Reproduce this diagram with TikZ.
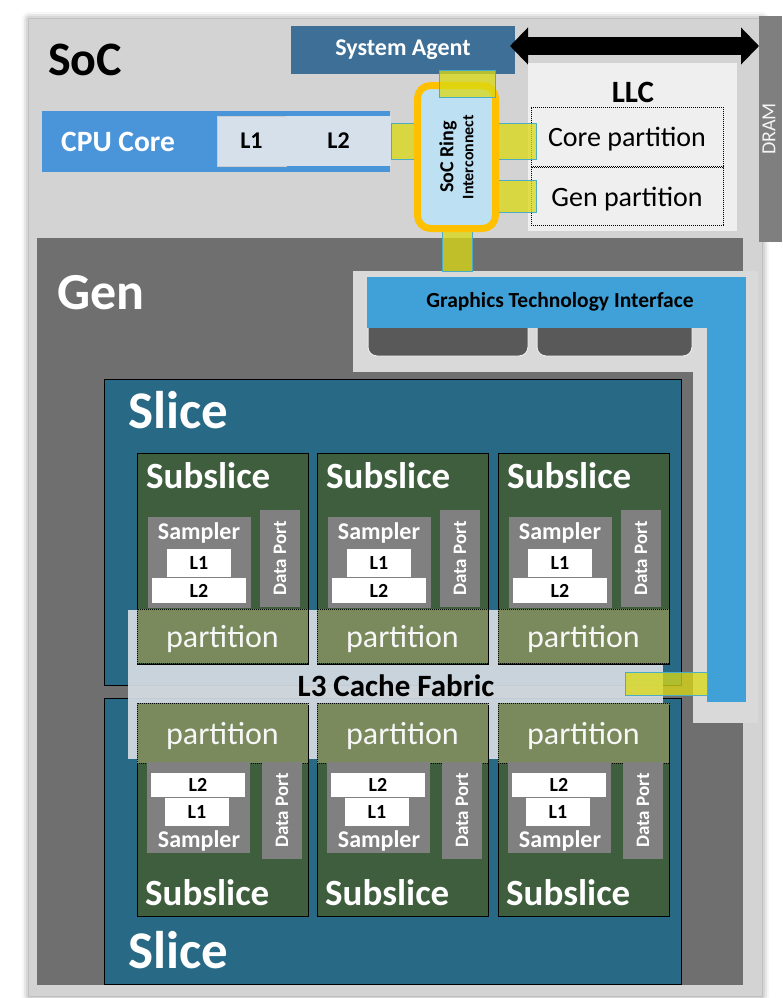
\documentclass[tikz,border=0pt]{standalone}
\usepackage{fontspec}
\setmainfont{Carlito}
\usetikzlibrary{arrows.meta,calc,fit,positioning,shadows.blur}

\definecolor{socgray}{HTML}{D3D3D3}
\definecolor{gengray}{HTML}{6F6F6F}
\definecolor{dramgray}{HTML}{7F7F7F}
\definecolor{agentblue}{HTML}{3D6F97}
\definecolor{cpublue}{HTML}{4A94DA}
\definecolor{cachepale}{HTML}{D6E0EA}
\definecolor{llcgray}{HTML}{EFEFEF}
\definecolor{ringblue}{HTML}{BDE0F3}
\definecolor{ringorange}{HTML}{FFC000}
\definecolor{busyellow}{HTML}{DAD914}
\definecolor{busedge}{HTML}{4BACC6}
\definecolor{gtigray}{HTML}{D9D9D9}
\definecolor{gtiblue}{HTML}{3FA1D8}
\definecolor{tabgray}{HTML}{595959}
\definecolor{slicebg}{HTML}{286A86}
\definecolor{subgreen}{HTML}{3E5E3E}
\definecolor{partgreen}{HTML}{7A8A5C}
\definecolor{unitgray}{HTML}{808080}
\definecolor{fabric}{HTML}{D6DDE4}

\pgfdeclarelayer{front}
\pgfsetlayers{main,front}

\begin{document}
\begin{tikzpicture}[x=1pt,y=-1pt,
  blk/.style={inner sep=0pt,outer sep=0pt},
  lbl/.style={inner sep=0pt},
  box/.style={blk,draw=black,line width=.8pt},
  unit/.style={blk,fill=unitgray},
  cachebox/.style={blk,fill=white},
  cachetext/.style={lbl,font=\fontsize{20}{20}\selectfont\bfseries},
  bigtitle/.style={lbl,anchor=base west,font=\fontsize{48}{48}\selectfont\bfseries},
  slicetitle/.style={bigtitle,text=white,font=\fontsize{53}{53}\selectfont\bfseries},
  subtitle/.style={lbl,anchor=base west,text=white,font=\fontsize{37}{37}\selectfont\bfseries},
  unitlabel/.style={lbl,text=white,font=\fontsize{24}{24}\selectfont\bfseries},
  portlabel/.style={lbl,rotate=90,text=white,font=\fontsize{19}{19}\selectfont\bfseries},
  partbox/.style={blk,fill=partgreen,draw=black,line width=.8pt,dash pattern=on .8pt off 1.2pt},
  parttext/.style={lbl,yshift=-3pt,text=white!94!gray,font=\fontsize{32}{32}\selectfont},
  llcpart/.style={blk,draw=black,line width=.8pt,dash pattern=on .8pt off 1.2pt},
  llctext/.style={lbl,yshift=-3pt,font=\fontsize{28}{28}\selectfont},
  bus/.style={fill=busyellow,fill opacity=.76,draw=busedge,line width=.6pt},
  bigarrow/.style={line width=18pt,{Triangle[length=18pt,width=36pt]}-{Triangle[length=18pt,width=36pt]}}]

\useasboundingbox (0,0) rectangle (782,998);
\clip (0,0) rectangle (782,998);

% SoC, DRAM and agent
\node[blk,fill=socgray,blur shadow={shadow xshift=0pt,shadow yshift=0pt,shadow blur radius=7pt,shadow opacity=50},fit={(29,19) (762,996)}] (soc) {};
\node[blk,fill=dramgray,fit={(759,16) (782,242)}] (dram) {};
\node[lbl,rotate=90,text=white!92!gray,font=\fontsize{20}{20}\selectfont] (dramt) at (769,129) {DRAM};
\node[bigtitle] (soct) at (48,75) {SoC};
\node[blk,fill=agentblue,fit={(291,26) (515,74)}] (sa) {};
\node[lbl,text=white,font=\fontsize{24}{24}\selectfont\bfseries] (sat) at (sa.center) {System Agent};
\coordinate (a0) at ($(sa.east)+(-5,-4)$);
\draw[bigarrow] (a0) -- (a0 -| dram.west);

% LLC
\node[blk,fill=llcgray,fit={(528,63) (737,231)}] (llc) {};
\node[lbl,anchor=base,font=\fontsize{31}{31}\selectfont\bfseries] (llct) at (633,102) {LLC};
\node[llcpart,fit={(531,107) (723,166)}] (corep) {};
\node[llcpart,fit={(531,167) (723,225)}] (genp) {};
\node[llctext] (corept) at (corep.center) {Core partition};
\node[llctext] (genpt) at (genp.center) {Gen partition};

% CPU core
\node[blk,fill=cpublue,fit={(42,111) (390,172)}] (cpu) {};
\node[lbl,anchor=base west,text=white,font=\fontsize{29.5}{30}\selectfont\bfseries] (cput) at (61,151) {CPU Core};
\node[blk,fill=cachepale,draw=gray!40,fit={(217,116) (286,166)}] (l1c) {};
\node[blk,fill=cachepale,fit={(286,116) (391,166)}] (l2c) {};
\node[lbl,font=\fontsize{24}{24}\selectfont\bfseries] (l1ct) at (l1c.center) {L1};
\node[lbl,font=\fontsize{24}{24}\selectfont\bfseries] (l2ct) at (l2c.center) {L2};

% Gen
\node[blk,fill=gengray,fit={(37,238) (743,985)}] (gen) {};
\node[bigtitle,text=white,font=\fontsize{52}{52}\selectfont\bfseries] (gent) at (57,309) {Gen};

% graphics technology interface
\node[blk,fill=gtigray,fit={(353,271) (758,372)}] (gtibg) {};
\node[blk,fill=gtigray,fit={(693,271) (758,723)}] (gtibgv) {};
\foreach \a/\b in {368/528,537/692}
  \draw[fill=tabgray,draw=white!85!gray,line width=1pt,rounded corners=9pt] (\a,300) rectangle (\b,356);
\node[blk,fill=gtiblue,fit={(707,277) (746,702)}] (gtiv) {};
\node[blk,fill=gtiblue,fit={(367,277) (746,328)}] (gti) {};
\node[lbl,font=\fontsize{21.5}{22}\selectfont\bfseries] (gtit) at (560,302) {Graphics Technology Interface};

% slices and L3
\node[box,fill=slicebg,fit={(104,379) (681,685)}] (slicea) {};
\node[box,fill=slicebg,fit={(104,698) (681,984)}] (sliceb) {};
\node[slicetitle] (sliceat) at (128,428) {Slice};
\node[slicetitle] (slicebt) at (128,968) {Slice};
\node[blk,fill=fabric,fill opacity=.92,fit={(128,610) (663,759)}] (l3) {};
\node[lbl,font=\fontsize{31}{31}\selectfont\bfseries] (l3t) at (396,686) {L3 Cache Fabric};

% subslices, upper and lower row
\foreach \X [count=\i] in {137,317,498} {
  \node[box,fill=subgreen,fit={(\X,453) ({\X+171},664)}] (ssa\i) {};
  \node[subtitle] (ssat\i) at ({\X+9},488) {Subslice};
  \node[unit,fit={({\X+11},517) ({\X+114},608)}] (smpa\i) {};
  \node[unitlabel,anchor=base] (smpat\i) at ({\X+62},539) {Sampler};
  \node[cachebox,fit={({\X+30},549) ({\X+94},577)}] (l1a\i) {};
  \node[cachebox,fit={({\X+15},578) ({\X+109},603)}] (l2a\i) {};
  \node[cachetext] at (l1a\i.center) {L1};
  \node[cachetext] at (l2a\i.center) {L2};
  \node[unit,fit={({\X+123},510) ({\X+163},607)}] (dpa\i) {};
  \node[portlabel] (dpat\i) at (dpa\i.center) {Data Port};
  \node[partbox,fit={(\X,609) ({\X+171},663)}] (pta\i) {};
  \node[parttext] (ptat\i) at (pta\i.center) {partition};

  \node[box,fill=subgreen,fit={(\X,705) ({\X+171},916)}] (ssb\i) {};
  \node[partbox,fit={(\X,703) ({\X+171},763)}] (ptb\i) {};
  \node[parttext] (ptbt\i) at (ptb\i.center) {partition};
  \node[unit,fit={({\X+10},762) ({\X+113},853)}] (smpb\i) {};
  \node[cachebox,fit={({\X+14},773) ({\X+108},797)}] (l2b\i) {};
  \node[cachebox,fit={({\X+28},798) ({\X+92},826)}] (l1b\i) {};
  \node[cachetext] at (l2b\i.center) {L2};
  \node[cachetext] at (l1b\i.center) {L1};
  \node[unitlabel,anchor=base] (smpbt\i) at ({\X+62},847) {Sampler};
  \node[unit,fit={({\X+125},762) ({\X+165},859)}] (dpb\i) {};
  \node[portlabel] (dpbt\i) at (dpb\i.center) {Data Port};
  \node[subtitle] (ssbt\i) at ({\X+8},905) {Subslice};
}

% ring interconnect
\begin{pgfonlayer}{front}
\node[blk,fill=ringblue,draw=ringorange,line width=7pt,rounded corners=13pt,fit={(417.5,85.5) (495.5,228.5)}] (ring) {};
\node[lbl,rotate=90,align=center,font=\fontsize{16}{20}\selectfont\bfseries] (ringt) at (ring.center) {{\fontsize{20}{20}\selectfont SoC Ring}\\Interconnect};
\draw[bus] ($(ring.north |- sa.south)+(-17,-4)$) rectangle ($(ring.north)+(39,12)$);
\end{pgfonlayer}

% links
\draw[bus] ($(l2c.east)+(0,-18)$) rectangle ($(l2c.east -| corep.west)+(5,18)$);
\draw[bus] ($(ring.east |- genp.west)+(0,-16)$) rectangle ($(genp.west)+(5,16)$);
\draw[bus] ($(ring.south)+(-14,0)$) rectangle ($(ring.south |- gtibg.north)+(16,0)$);
\draw[bus] ($(l3.east)+(-38,-12)$) rectangle ($(gtiv.west |- l3.east)+(0,11)$);
\end{tikzpicture}
\end{document}
